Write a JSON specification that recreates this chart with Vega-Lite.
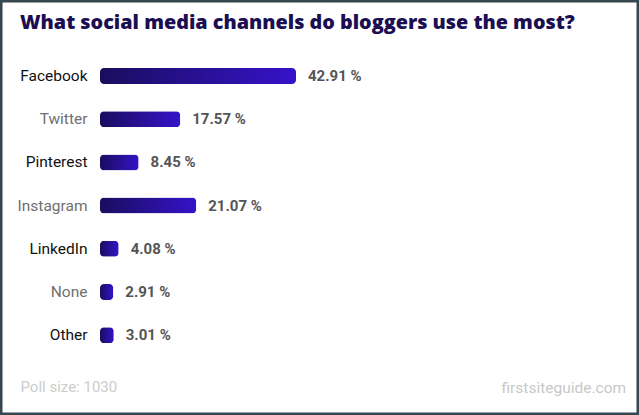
{
  "$schema": "https://vega.github.io/schema/vega-lite/v6.json",
  "width": 639,
  "height": 415,
  "autosize": {"type": "none"},
  "padding": 0,
  "background": "#ffffff",
  "title": {
    "text": "What social media channels do bloggers use the most?",
    "anchor": "start",
    "frame": "group",
    "dx": 20,
    "offset": -33,
    "font": "Open Sans",
    "fontSize": 19.8,
    "fontWeight": 800,
    "color": "#1b0f52"
  },
  "config": {
    "view": {"stroke": "#37474f", "strokeWidth": 5, "fill": "#ffffff"},
    "font": "Roboto"
  },
  "data": {
    "values": [
      {"channel": "Facebook", "value": 42.91, "label": "42.91 %"},
      {"channel": "Twitter", "value": 17.57, "label": "17.57 %"},
      {"channel": "Pinterest", "value": 8.45, "label": "8.45 %"},
      {"channel": "Instagram", "value": 21.07, "label": "21.07 %"},
      {"channel": "LinkedIn", "value": 4.08, "label": "4.08 %"},
      {"channel": "None", "value": 2.91, "label": "2.91 %"},
      {"channel": "Other", "value": 3.01, "label": "3.01 %"}
    ]
  },
  "encoding": {
    "y": {
      "field": "channel",
      "type": "nominal",
      "sort": null,
      "scale": {"range": [54.4, 356.8], "paddingInner": 0.63, "paddingOuter": 0.315},
      "axis": {
        "title": "firstsiteguide.com",
        "titleAngle": 0,
        "titleX": 414,
        "titleY": 392,
        "titleAlign": "left",
        "titleBaseline": "alphabetic",
        "titleFont": "Roboto",
        "titleFontSize": 15.5,
        "titleFontWeight": "normal",
        "titleColor": "#c8c8c8",
        "offset": -87,
        "domain": false,
        "ticks": false,
        "tickSize": 0,
        "labelPadding": 0,
        "labelFont": "Roboto",
        "labelFontSize": 15.5,
        "labelColor": {
          "condition": {"test": "indexof(['Twitter','Instagram','None'], datum.value) >= 0", "value": "#707070"},
          "value": "#111111"
        },
        "grid": false
      }
    },
    "x": {
      "field": "value",
      "type": "quantitative",
      "scale": {"domain": [0, 42.91], "range": [100, 296], "nice": false, "zero": true},
      "axis": {
        "title": "Poll size: 1030",
        "titleX": 20,
        "titleY": -24,
        "titleAlign": "left",
        "titleBaseline": "alphabetic",
        "titleFont": "Roboto",
        "titleFontSize": 15,
        "titleFontWeight": "normal",
        "titleColor": "#cccccc",
        "labels": false,
        "ticks": false,
        "domain": false,
        "grid": false
      }
    }
  },
  "layer": [
    {
      "mark": {
        "type": "bar",
        "cornerRadius": 4,
        "fill": {
          "gradient": "linear",
          "x1": 0, "x2": 1, "y1": 0, "y2": 0,
          "stops": [
            {"offset": 0, "color": "#1a0d5e"},
            {"offset": 1, "color": "#3513c9"}
          ]
        }
      }
    },
    {
      "mark": {
        "type": "text",
        "align": "left",
        "baseline": "middle",
        "dx": 12,
        "font": "Roboto",
        "fontSize": 15,
        "fontWeight": "bold",
        "color": "#555555"
      },
      "encoding": {
        "text": {"field": "label"}
      }
    }
  ]
}
